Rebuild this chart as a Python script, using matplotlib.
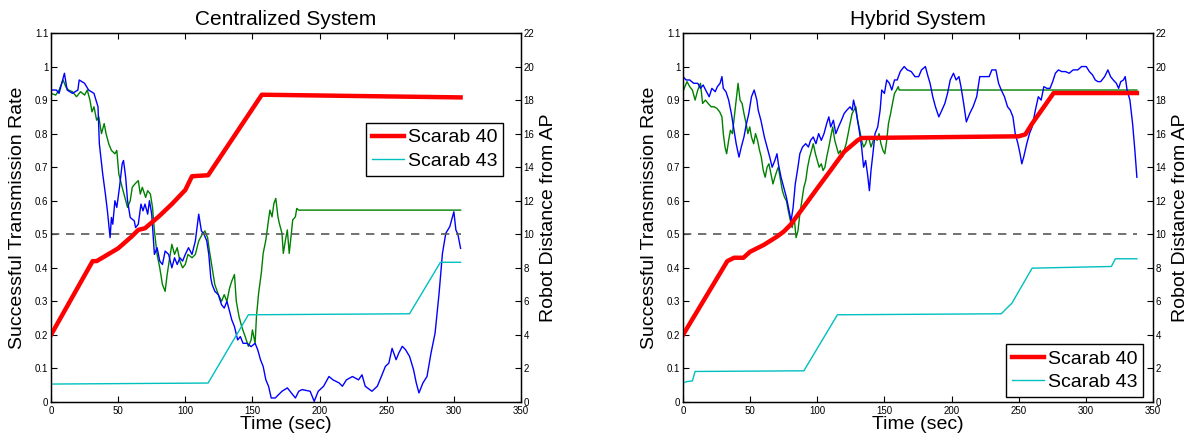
import matplotlib
matplotlib.use("Agg")
import matplotlib.pyplot as plt
import numpy as np

plt.rcParams['font.family'] = ['Liberation Sans', 'DejaVu Sans']

# ---------------- Centralized system ----------------
c_blue_t = [0, 4, 6, 10, 12, 16, 20, 21, 25, 28, 32, 35, 36, 38.5, 40.5, 42, 44, 45, 46, 47.6, 49, 51, 53, 54,
            55.6, 57, 59, 62, 63, 65, 67, 68.5, 70, 72, 73.3, 75, 76, 77, 79, 81, 83, 85, 87.6, 90, 92, 94, 96,
            98, 100, 102.4, 105, 107.5, 110, 112, 114, 116, 117.5, 119, 120, 122, 124.6, 127, 129, 131, 133,
            134.6, 136.6, 139, 141, 143, 146, 149, 152, 154, 156, 158, 160, 162, 164, 167, 172, 176, 178, 182,
            184.5, 187, 193, 196, 199, 203, 207, 210, 214.5, 217, 220, 224.5, 229, 231.6, 234, 239, 243, 246,
            249, 251.6, 254, 257, 259, 261.6, 264, 267, 270, 272, 274, 277, 280, 283, 286, 289, 291.5, 294,
            297, 300, 301.5, 303, 305]
c_blue_v = [0.93, 0.93, 0.92, 0.98, 0.93, 0.92, 0.93, 0.96, 0.95, 0.93, 0.92, 0.88, 0.77, 0.68, 0.62, 0.57,
            0.49, 0.55, 0.53, 0.60, 0.58, 0.64, 0.71, 0.72, 0.67, 0.60, 0.55, 0.54, 0.52, 0.53, 0.59, 0.57,
            0.59, 0.56, 0.60, 0.56, 0.50, 0.44, 0.46, 0.42, 0.41, 0.45, 0.44, 0.40, 0.43, 0.41, 0.43, 0.42,
            0.44, 0.46, 0.44, 0.48, 0.56, 0.51, 0.50, 0.48, 0.44, 0.37, 0.35, 0.33, 0.32, 0.29, 0.28, 0.30,
            0.27, 0.245, 0.225, 0.185, 0.195, 0.175, 0.175, 0.165, 0.175, 0.155, 0.126, 0.106, 0.066, 0.047,
            0.012, 0.012, 0.032, 0.042, 0.032, 0.012, 0.032, 0.037, 0.032, 0.002, 0.032, 0.047, 0.076, 0.066,
            0.057, 0.047, 0.066, 0.076, 0.066, 0.081, 0.047, 0.032, 0.047, 0.076, 0.106, 0.116, 0.16, 0.126,
            0.146, 0.166, 0.156, 0.136, 0.096, 0.057, 0.027, 0.057, 0.076, 0.146, 0.205, 0.324, 0.443, 0.503,
            0.523, 0.567, 0.513, 0.50, 0.458]

c_green_t = [0, 3.5, 6, 9, 11, 13, 16, 19, 22, 25, 27, 29, 30.5, 32, 34, 35.6, 37.6, 39.6, 41, 43, 45, 47.6,
             49, 50.5, 53, 55, 57, 59, 60.5, 62.5, 65, 66.5, 68, 70.5, 72, 74, 75.6, 77, 79, 81, 83, 85, 86.5,
             88, 90, 92, 94, 96, 98, 100, 102, 105, 107.5, 110, 112.6, 114.6, 116.6, 118, 120, 122, 124.6, 127,
             129, 131, 133, 134.6, 136.6, 138, 140, 142, 144.6, 147, 149, 150, 152, 153, 154.6, 156.6, 158,
             160, 162, 163, 164.6, 166, 167.4, 169, 170, 172, 173, 174.6, 176, 177.4, 179, 180, 182, 183,
             184.5, 305]
c_green_v = [0.92, 0.915, 0.93, 0.96, 0.94, 0.93, 0.925, 0.91, 0.925, 0.915, 0.93, 0.90, 0.865, 0.88, 0.84,
             0.85, 0.80, 0.83, 0.80, 0.77, 0.75, 0.74, 0.75, 0.68, 0.64, 0.61, 0.58, 0.60, 0.64, 0.65, 0.66,
             0.62, 0.64, 0.61, 0.63, 0.62, 0.58, 0.51, 0.44, 0.40, 0.35, 0.33, 0.38, 0.42, 0.47, 0.44, 0.46,
             0.42, 0.40, 0.41, 0.44, 0.43, 0.44, 0.48, 0.50, 0.51, 0.49, 0.45, 0.40, 0.35, 0.32, 0.30, 0.32,
             0.30, 0.34, 0.36, 0.38, 0.30, 0.255, 0.225, 0.195, 0.166, 0.185, 0.215, 0.175, 0.255, 0.324,
             0.384, 0.443, 0.483, 0.543, 0.572, 0.552, 0.592, 0.607, 0.552, 0.533, 0.503, 0.443, 0.483, 0.513,
             0.443, 0.503, 0.543, 0.552, 0.577, 0.572, 0.572]

c_red_t = [0, 31, 34, 50, 60, 65, 70, 80, 90, 100, 105, 117, 157, 305]
c_red_d = [4.0, 8.4, 8.4, 9.16, 9.86, 10.26, 10.36, 11.04, 11.8, 12.64, 13.46, 13.52, 18.32, 18.16]

c_cyan_t = [0, 117, 147, 267, 290, 305]
c_cyan_d = [1.07, 1.13, 5.2, 5.26, 8.33, 8.33]

# ---------------- Hybrid system ----------------
h_blue_t = [0, 2.3, 5, 8, 11, 13, 15, 17.5, 19.5, 21.5, 24, 25.6, 27.6, 29, 30, 32, 34, 36, 37.6, 39.6, 41.7,
            43.4, 45.4, 47, 49, 51, 53, 55, 56, 58, 60.6, 62.6, 64.6, 66.4, 68.4, 70, 71, 73, 75, 77, 79, 80.5,
            82, 83.6, 85.6, 87, 89, 91.4, 93.4, 95, 97, 99, 101, 103, 105, 107, 108.6, 110, 112, 113.8, 115.8,
            118, 120, 122, 124.4, 126, 127, 128.7, 130, 131.6, 133, 134.5, 136, 137.4, 138.8, 140, 141.7, 143,
            145, 146.8, 148, 150, 151.7, 153.7, 155.5, 157.5, 159.5, 161.8, 164.7, 167, 170, 172.7, 175.5,
            177.6, 180.5, 182.5, 184, 186, 188, 190.5, 192.8, 195, 197, 199, 201.4, 203.4, 205.5, 207, 209,
            211, 213.5, 216, 218.7, 221, 224.4, 228, 230, 233, 235, 237, 239.4, 241.7, 243.7, 245.7, 247.4,
            249.4, 251, 252.3, 253.7, 256, 258, 260, 262.4, 264.6, 266.7, 268.7, 271, 273.3, 275.3, 277.3,
            279.6, 282, 284.8, 287.6, 290.5, 294, 296.8, 300.3, 302.6, 305, 307, 309, 311, 314, 316.4, 318.4,
            320.4, 322.7, 324.4, 326, 328, 329.3, 330.7, 332.8, 334.8, 336.5, 338]
h_blue_v = [0.97, 0.96, 0.96, 0.95, 0.95, 0.935, 0.945, 0.925, 0.91, 0.935, 0.925, 0.94, 0.95, 0.97, 0.935,
            0.925, 0.90, 0.86, 0.82, 0.77, 0.73, 0.76, 0.79, 0.825, 0.86, 0.91, 0.93, 0.90, 0.87, 0.84, 0.79,
            0.76, 0.73, 0.70, 0.72, 0.74, 0.71, 0.67, 0.64, 0.61, 0.57, 0.54, 0.58, 0.65, 0.70, 0.74, 0.76,
            0.77, 0.76, 0.78, 0.79, 0.77, 0.80, 0.78, 0.80, 0.83, 0.85, 0.82, 0.84, 0.80, 0.82, 0.84, 0.86,
            0.87, 0.88, 0.87, 0.90, 0.87, 0.84, 0.80, 0.76, 0.70, 0.72, 0.68, 0.63, 0.69, 0.75, 0.80, 0.82,
            0.87, 0.93, 0.92, 0.96, 0.95, 0.93, 0.96, 0.96, 0.985, 1.00, 0.99, 0.985, 0.97, 0.97, 0.99, 1.00,
            0.97, 0.95, 0.91, 0.88, 0.85, 0.87, 0.89, 0.92, 0.96, 0.98, 0.96, 0.97, 0.94, 0.89, 0.835, 0.86,
            0.88, 0.91, 0.97, 0.97, 0.97, 0.99, 0.99, 0.95, 0.93, 0.91, 0.88, 0.87, 0.85, 0.80, 0.77, 0.74,
            0.71, 0.73, 0.77, 0.80, 0.82, 0.87, 0.91, 0.90, 0.94, 0.935, 0.935, 0.955, 0.98, 0.99, 0.985,
            0.985, 0.98, 0.99, 0.99, 1.00, 1.00, 0.985, 0.975, 0.96, 0.955, 0.955, 0.97, 0.99, 0.97, 0.96,
            0.95, 0.935, 0.955, 0.96, 0.97, 0.93, 0.90, 0.83, 0.75, 0.67]

h_green_t = [0, 1.4, 3, 5, 7, 9, 11, 13, 14.6, 16.7, 18.7, 21, 23.3, 25.3, 27.3, 29, 30, 31.3, 32.5, 34, 35.3,
             36.8, 38.2, 39.6, 41, 42.5, 44, 45.4, 47, 48.3, 49.7, 51, 52.6, 54, 55.5, 57, 58.3, 59.8, 61.2,
             62.6, 64, 65.5, 67, 68.4, 70, 71, 72.7, 74, 75.6, 77, 78.4, 80, 81.3, 82.8, 84.2, 85.6, 87, 88.5,
             90, 91.4, 92.8, 94.3, 95.7, 97, 98.6, 100, 101.4, 103, 104.3, 105.7, 107, 108.6, 110, 111.5, 113,
             114.4, 115.8, 117.2, 118.7, 120, 121.5, 123, 124.4, 125.9, 127.3, 128.7, 130, 131.6, 133, 134.5,
             136, 137.4, 138.8, 140, 141.7, 143, 144.5, 146, 147.4, 148.9, 150.3, 151.7, 153, 154.6, 156,
             157.5, 159, 160.3, 161, 338]
h_green_v = [0.925, 0.94, 0.955, 0.94, 0.93, 0.90, 0.93, 0.95, 0.89, 0.90, 0.89, 0.88, 0.88, 0.875, 0.865,
             0.85, 0.80, 0.76, 0.74, 0.78, 0.81, 0.80, 0.85, 0.90, 0.95, 0.90, 0.89, 0.86, 0.83, 0.80, 0.82,
             0.79, 0.77, 0.80, 0.78, 0.75, 0.73, 0.69, 0.67, 0.70, 0.71, 0.68, 0.65, 0.67, 0.69, 0.70, 0.66,
             0.63, 0.61, 0.60, 0.57, 0.54, 0.52, 0.55, 0.49, 0.51, 0.56, 0.60, 0.64, 0.66, 0.70, 0.73, 0.75,
             0.77, 0.74, 0.72, 0.70, 0.71, 0.69, 0.70, 0.73, 0.76, 0.79, 0.82, 0.78, 0.76, 0.74, 0.75, 0.73,
             0.75, 0.77, 0.80, 0.83, 0.86, 0.87, 0.88, 0.84, 0.81, 0.78, 0.76, 0.77, 0.79, 0.78, 0.76, 0.78,
             0.79, 0.78, 0.80, 0.77, 0.75, 0.74, 0.78, 0.83, 0.86, 0.89, 0.92, 0.93, 0.94, 0.93, 0.93]

h_red_t = [0, 33, 38, 45, 50, 60, 70, 75, 80, 90, 100, 110, 120, 130, 133, 250, 255, 260, 276, 338]
h_red_d = [4.0, 8.4, 8.6, 8.6, 8.96, 9.36, 9.86, 10.16, 10.56, 11.64, 12.74, 13.82, 14.92, 15.6, 15.74,
           15.84, 15.96, 16.6, 18.42, 18.42]

h_cyan_t = [0, 3, 7, 9, 90, 115, 237, 245, 260, 319, 322, 338]
h_cyan_d = [1.13, 1.22, 1.26, 1.82, 1.86, 5.2, 5.26, 5.9, 7.98, 8.08, 8.54, 8.54]

threshold = 0.5

panels = [
    dict(title='Centralized System', bt=c_blue_t, bv=c_blue_v, gt=c_green_t, gv=c_green_v,
         rt=c_red_t, rd=c_red_d, ct=c_cyan_t, cd=c_cyan_d,
         rect=[51/1204, 41/443, 470/1204, 369/443],
         leg=dict(loc='upper right', bbox_to_anchor=(0.962, 0.756))),
    dict(title='Hybrid System', bt=h_blue_t, bv=h_blue_v, gt=h_green_t, gv=h_green_v,
         rt=h_red_t, rd=h_red_d, ct=h_cyan_t, cd=h_cyan_d,
         rect=[683/1204, 41/443, 470/1204, 369/443],
         leg=dict(loc='lower right', bbox_to_anchor=(0.979, 0.014))),
]

fig = plt.figure(figsize=(12.04, 4.43), dpi=100)

for p in panels:
    ax = fig.add_axes(p['rect'])
    ax.plot(p['gt'], p['gv'], color=(0, 0.5, 0), lw=1.0)
    ax.plot(p['bt'], p['bv'], color=(0, 0, 1), lw=1.0)
    tend = p['bt'][-1]
    ax.plot([0, tend], [threshold, threshold], color=(0.35, 0.35, 0.35), lw=1.2, linestyle=(0, (5, 4)))
    ax.set_xlim(0, 350)
    ax.set_ylim(0, 1.1)
    ax.set_xticks(np.arange(0, 351, 50))
    yt = np.round(np.arange(0, 1.11, 0.1), 1)
    ax.set_yticks(yt)
    ax.set_yticklabels([('%g' % v) for v in yt])
    ax.tick_params(direction='in', top=True, labelsize=7, length=4, width=0.8, pad=2)
    ax.tick_params(axis='x', pad=3)
    ax.set_xlabel('Time (sec)', fontsize=14, labelpad=0)
    ax.set_ylabel('Successful Transmission Rate', fontsize=14, labelpad=6)
    ax.set_title(p['title'], fontsize=15, pad=6)
    for s in ax.spines.values():
        s.set_linewidth(1.0)

    ax2 = ax.twinx()
    l1, = ax2.plot(p['rt'], p['rd'], color=(1, 0, 0), lw=3.2, label='Scarab 40')
    l2, = ax2.plot(p['ct'], p['cd'], color=(0, 0.75, 0.75), lw=1.0, label='Scarab 43')
    ax2.set_ylim(0, 22)
    ax2.set_yticks(np.arange(0, 23, 2))
    ax2.tick_params(direction='in', labelsize=7, length=4, width=0.8, pad=2)
    ax2.set_ylabel('Robot Distance from AP', fontsize=14, labelpad=4)
    leg = ax2.legend(handles=[l1, l2], fontsize=14, fancybox=False, edgecolor='black',
                     framealpha=1, borderaxespad=0, handlelength=1.65, handletextpad=0.2,
                     borderpad=0.3, labelspacing=0.3, **p['leg'])
    leg.get_frame().set_linewidth(1.0)

fig.savefig('out.png', dpi=100)
